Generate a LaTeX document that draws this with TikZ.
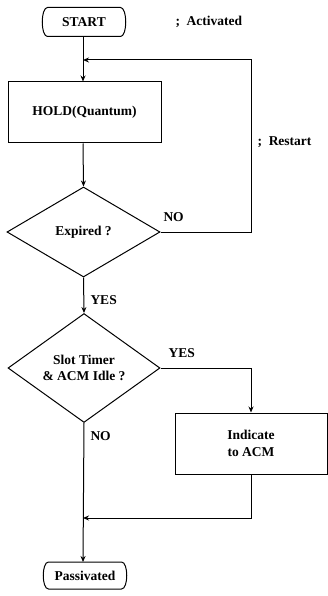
\documentclass[tikz,border=0pt]{standalone}
\usepackage{fontspec}
\setmainfont{Liberation Serif}
\usetikzlibrary{shapes.geometric,arrows.meta}
\begin{document}
\begin{tikzpicture}[x=1pt,y=-1pt,
  font=\fontsize{13.5}{16.5}\selectfont\bfseries,
  line width=1pt,
  box/.style={draw, rectangle, inner sep=0pt, align=center},
  term/.style={inner sep=0pt, align=center},
  dec/.style={draw, diamond, inner sep=0pt, align=center},
  lbl/.style={inner sep=0pt, anchor=west},
  flow/.style={-{Stealth[length=6pt,width=5pt]}}]
\useasboundingbox (0,0) rectangle (328,596);

% nodes
\node[term, minimum width=84pt, minimum height=28pt] (start) at (84,22) {START};
\node[lbl] (act) at (175,22) {;\ \ Activated};
\node[box, minimum width=153pt, minimum height=61pt] (hold) at (84.5,112.5) {HOLD(Quantum)};
\node[lbl] (rst) at (257,142) {;\ \ Restart};
\node[dec, minimum width=153pt, minimum height=90pt] (exp) at (83.5,232) {Expired ?};
\node[dec, minimum width=152pt, minimum height=90pt] (slot) at (84,368) {Slot Timer\\\&\ ACM Idle ?};
\node[box, minimum width=152pt, minimum height=61pt] (ind) at (251,443.5) {Indicate\\to ACM};
\node[term, minimum width=84pt, minimum height=26pt] (pas) at (85,575.5) {Passivated};

% terminal outlines
\foreach \n in {start,pas}{
  \draw ([xshift=6pt]\n.north west) -- ([xshift=-6pt]\n.north east)
    .. controls ([xshift=1pt]\n.north east) and ([xshift=1pt]\n.south east) .. ([xshift=-6pt]\n.south east)
    -- ([xshift=6pt]\n.south west)
    .. controls ([xshift=-1pt]\n.south west) and ([xshift=-1pt]\n.north west) .. cycle;
}

% coordinates
\coordinate (j1) at (83,60);
\coordinate (j2) at (83,518);

% connectors
\draw[flow] (start.south -| j1) -- (hold.north -| j1);
\draw[flow] (hold.south -| j1) -- (exp.north);
\draw[flow] (exp.east) -- (251,232) -- (251,60) -- (j1);
\draw[flow] (exp.south) -- (slot.north);
\draw[flow] (slot.east) -- (ind.north |- slot.east) -- (ind.north);
\draw[flow] (ind.south) -- (ind.south |- j2) -- (j2);
\draw[flow] (slot.south) -- (pas.north -| j1);

% labels
\node[lbl] (no1) at (163,217) {NO};
\node[lbl] (yes1) at (90,300) {YES};
\node[lbl] (yes2) at (168,353) {YES};
\node[lbl] (no2) at (90,436) {NO};
\end{tikzpicture}
\end{document}
